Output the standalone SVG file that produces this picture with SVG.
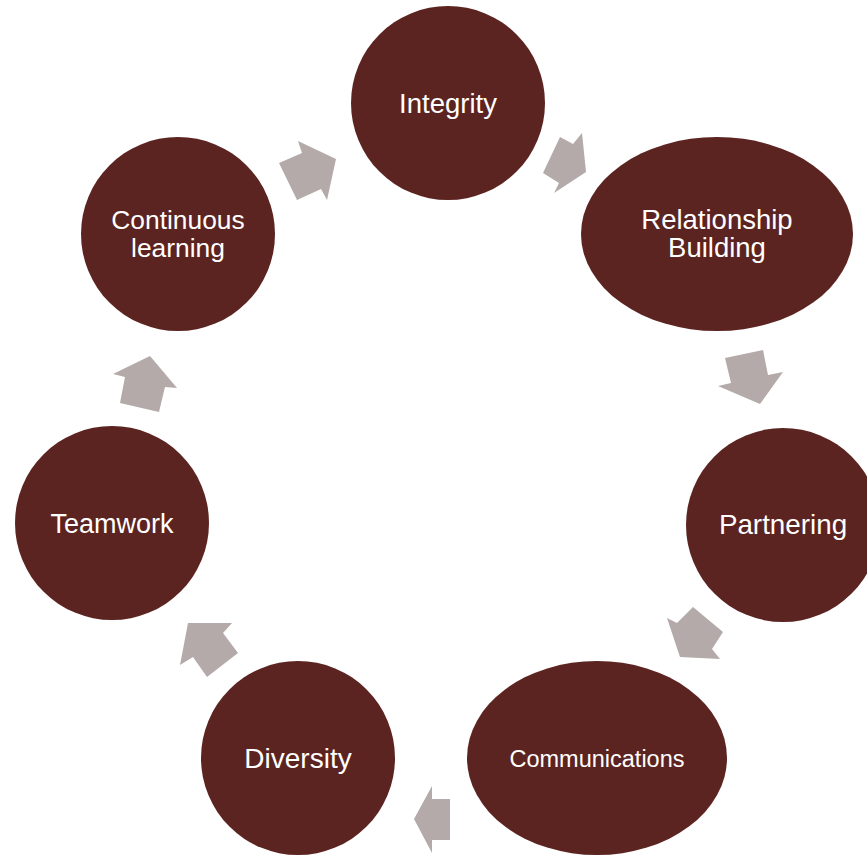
<svg xmlns="http://www.w3.org/2000/svg" width="867" height="855" viewBox="0 0 867 855">
<style>
.node{fill:#5c2420;}
.arr{fill:#b3aaa9;}
.lbl{fill:#ffffff;font-family:"Liberation Sans",Arial,sans-serif;font-size:27.5px;text-anchor:middle;}
</style>
<rect width="867" height="855" fill="#ffffff"/>
<g id="connectors">
<polygon class="arr" points="279,163 302,153 298,141 336,159 327,200 321,189 297,200"/>
<polygon class="arr" points="543,173 560,137 573,144 582,133 586,172 554,193 559,183"/>
<polygon class="arr" points="725,358 763,350 768,375 783,372 760,404 718,386 731,383"/>
<polygon class="arr" points="693,607 723,632 712,649 720,659 680,657 667,618 677,623"/>
<polygon class="arr" points="450,799 450,840 432,840 432,853 414,819 432,786 432,799"/>
<polygon class="arr" points="188,623 232,623 223,633 238,653 207,677 193,657 180,665"/>
<polygon class="arr" points="150,356 177,388 165,387 159,412 120,403 125,377 113,374"/>
</g>
<g id="integrity">
<circle class="node" cx="448" cy="103" r="97"/>
<text class="lbl" x="448" y="113">Integrity</text>
</g>
<g id="relationship">
<ellipse class="node" cx="717" cy="234" rx="136" ry="97"/>
<text class="lbl" x="717" y="229">Relationship</text>
<text class="lbl" x="717" y="257">Building</text>
</g>
<g id="partnering">
<circle class="node" cx="783" cy="525" r="97"/>
<text class="lbl" x="783" y="534" style="font-size:27.8px">Partnering</text>
</g>
<g id="communications">
<ellipse class="node" cx="597" cy="758" rx="130" ry="97"/>
<text class="lbl" x="597" y="767" style="font-size:23.5px">Communications</text>
</g>
<g id="diversity">
<circle class="node" cx="298" cy="758" r="97"/>
<text class="lbl" x="298" y="768" style="font-size:28px">Diversity</text>
</g>
<g id="teamwork">
<circle class="node" cx="112" cy="523" r="97"/>
<text class="lbl" x="112" y="533" style="font-size:27px">Teamwork</text>
</g>
<g id="continuous">
<circle class="node" cx="178" cy="234" r="97"/>
<text class="lbl" x="178" y="229" style="font-size:26.4px">Continuous</text>
<text class="lbl" x="178" y="257" style="font-size:26.4px">learning</text>
</g>
</svg>
